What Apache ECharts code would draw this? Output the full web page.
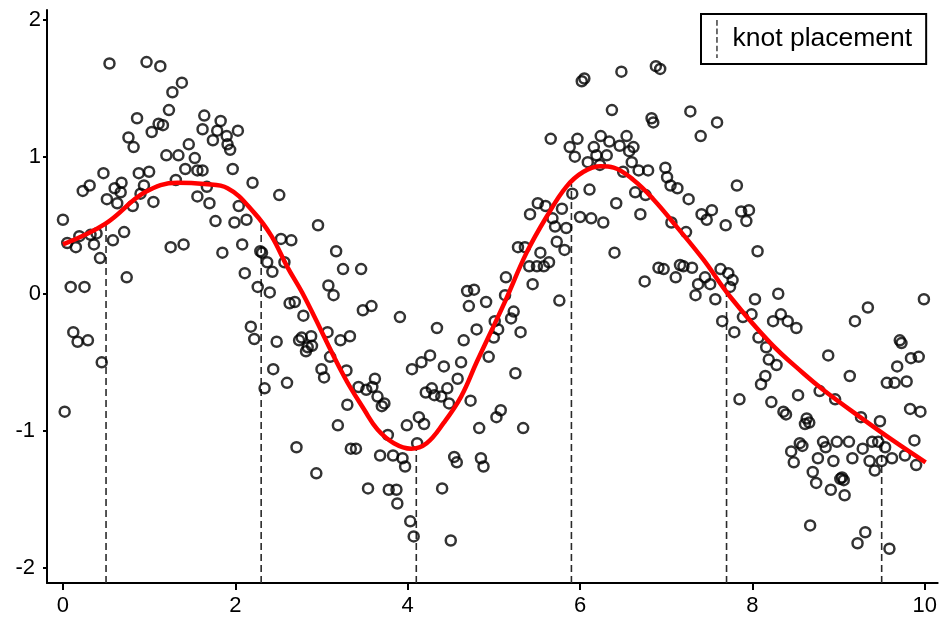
<!DOCTYPE html>
<html>
<head>
<meta charset="utf-8">
<script src="https://cdn.jsdelivr.net/npm/echarts@6/dist/echarts.min.js"></script>
<style>
  html, body { margin: 0; padding: 0; background: #fff; }
  #main { width: 940px; height: 621px; }
</style>
</head>
<body>
<div id="main"></div>
<script>
// tick positions
var xTicks = [0, 2, 4, 6, 8, 10];
var yTicks = [-2, -1, 0, 1, 2];

// knot positions and the fitted value where each dashed line stops
var knotX = [0.5, 2.3, 4.1, 5.9, 7.7, 9.5];
var knotTop = [0.51, 0.52, -1.13, 0.80, 0.02, -1.01];

// fitted spline (red line)
var fitX = [0.00, 0.49, 0.95, 1.33, 1.64, 1.91, 2.22, 2.42, 2.60, 2.80, 3.26, 3.50, 3.65, 3.84, 4.04, 4.22, 4.42, 4.62, 4.80, 5.12, 5.38, 5.61, 5.84, 6.04, 6.24, 6.39, 6.62, 6.85, 7.12, 7.43, 7.74, 8.21, 8.59, 8.82, 9.25, 9.63, 10.01];
var fitY = [0.36, 0.51, 0.74, 0.81, 0.80, 0.77, 0.59, 0.42, 0.20, -0.02, -0.60, -0.85, -0.99, -1.09, -1.13, -1.09, -0.94, -0.75, -0.50, -0.07, 0.30, 0.56, 0.78, 0.89, 0.93, 0.92, 0.83, 0.69, 0.49, 0.25, -0.02, -0.36, -0.58, -0.70, -0.90, -1.07, -1.23];

// observed points [x, y]
var obs = [
  [0.54, 1.68], [0.97, 1.69], [1.13, 1.66], [1.38, 1.54], [1.27, 1.47], [1.23, 1.34], [1.64, 1.30], [0.86, 1.28],
  [1.11, 1.24], [1.16, 1.23], [1.03, 1.18], [1.62, 1.20], [0.76, 1.14], [0.82, 1.07], [1.46, 1.09], [1.20, 1.01],
  [1.34, 1.01], [1.53, 0.99], [1.42, 0.91], [1.56, 0.90], [0.47, 0.88], [0.88, 0.88], [1.00, 0.89], [1.31, 0.83],
  [0.31, 0.79], [0.23, 0.75], [0.68, 0.81], [0.60, 0.77], [0.67, 0.74], [0.94, 0.79], [0.51, 0.69], [0.63, 0.66],
  [0.81, 0.64], [0.90, 0.73], [1.05, 0.67], [1.56, 0.71], [0.00, 0.54], [0.19, 0.42], [0.32, 0.43], [0.39, 0.44],
  [0.36, 0.36], [0.15, 0.34], [0.05, 0.37], [0.71, 0.45], [0.58, 0.39], [0.43, 0.26], [1.25, 0.34], [1.40, 0.36],
  [0.74, 0.12], [0.09, 0.05], [0.25, 0.05], [0.12, -0.28], [0.17, -0.35], [0.29, -0.34], [0.45, -0.50], [0.02, -0.86],
  [1.83, 1.26], [1.79, 1.19], [2.03, 1.19], [1.90, 1.15], [1.74, 1.12], [1.91, 1.09], [1.94, 1.05], [1.62, 0.90],
  [1.97, 0.91], [2.20, 0.81], [2.51, 0.72], [1.67, 0.78], [1.70, 0.66], [2.04, 0.64], [1.77, 0.53], [1.99, 0.52],
  [2.13, 0.54], [2.96, 0.50], [2.08, 0.36], [1.85, 0.30], [2.53, 0.40], [2.65, 0.39], [3.17, 0.31], [2.29, 0.31],
  [2.31, 0.30], [2.37, 0.23], [2.57, 0.23], [2.11, 0.15], [2.43, 0.16], [3.25, 0.18], [2.26, 0.05], [2.40, 0.01],
  [3.08, 0.06], [3.14, -0.01], [2.63, -0.07], [2.69, -0.06], [2.79, -0.16], [2.18, -0.24], [2.22, -0.33], [2.48, -0.35],
  [2.74, -0.34], [2.77, -0.32], [2.88, -0.31], [2.84, -0.39], [2.82, -0.42], [2.89, -0.38], [3.07, -0.28], [3.22, -0.34],
  [3.33, -0.31], [3.10, -0.46], [3.00, -0.55], [3.03, -0.61], [3.29, -0.56], [2.44, -0.55], [2.60, -0.65], [2.34, -0.69],
  [3.30, -0.81], [3.19, -0.96], [2.71, -1.12], [3.34, -1.13], [3.40, -1.13], [2.94, -1.31],
  [3.46, 0.18], [3.48, -0.12], [3.58, -0.09], [3.91, -0.17], [4.34, -0.25], [4.69, 0.02], [4.77, 0.03], [4.71, -0.09],
  [4.91, -0.06], [5.14, 0.12], [5.13, -0.01], [4.80, -0.26], [5.01, -0.20], [5.05, -0.26], [4.65, -0.34], [5.00, -0.32],
  [4.94, -0.46], [4.26, -0.45], [4.16, -0.50], [4.05, -0.55], [4.42, -0.53], [4.62, -0.50], [4.58, -0.62], [3.62, -0.62],
  [3.43, -0.68], [3.52, -0.70], [3.59, -0.68], [3.65, -0.75], [3.73, -0.80], [3.70, -0.82], [4.21, -0.72], [4.28, -0.69],
  [4.31, -0.74], [4.39, -0.75], [4.46, -0.69], [4.48, -0.80], [4.73, -0.78], [5.08, -0.85], [5.03, -0.90], [4.83, -0.98],
  [3.99, -0.96], [4.13, -0.90], [4.19, -0.95], [3.77, -1.03], [4.11, -1.09], [3.68, -1.18], [3.83, -1.18], [3.94, -1.20],
  [3.97, -1.26], [4.54, -1.19], [4.57, -1.23], [4.85, -1.20], [4.88, -1.26], [3.54, -1.42], [3.78, -1.43], [3.87, -1.43],
  [3.88, -1.53], [4.40, -1.42], [4.03, -1.66], [4.07, -1.77], [4.50, -1.80],
  [6.02, 1.55], [6.05, 1.57], [6.48, 1.62], [6.88, 1.66], [6.93, 1.64], [6.37, 1.34], [6.83, 1.28], [6.85, 1.25],
  [5.66, 1.13], [5.97, 1.13], [5.88, 1.07], [5.94, 1.00], [6.24, 1.15], [6.34, 1.11], [6.46, 1.08], [6.54, 1.15],
  [6.62, 1.07], [6.57, 1.04], [6.16, 1.07], [6.19, 1.01], [6.31, 1.01], [6.09, 0.96], [6.23, 0.94], [6.60, 0.96],
  [6.68, 0.90], [6.79, 0.90], [6.50, 0.89], [6.11, 0.76], [5.91, 0.73], [6.64, 0.74], [6.76, 0.72], [6.42, 0.66],
  [5.51, 0.66], [5.60, 0.64], [5.79, 0.62], [5.42, 0.58], [6.00, 0.56], [6.13, 0.55], [6.27, 0.52], [6.70, 0.58],
  [5.68, 0.55], [5.71, 0.49], [5.84, 0.48], [5.73, 0.38], [5.82, 0.32], [5.28, 0.34], [5.36, 0.34], [5.54, 0.30],
  [6.40, 0.30], [5.41, 0.20], [5.50, 0.20], [5.58, 0.20], [5.64, 0.23], [5.45, 0.07], [6.75, 0.09], [5.76, -0.05],
  [5.23, -0.13], [5.20, -0.18], [5.31, -0.28], [5.25, -0.58], [5.34, -0.98],
  [7.28, 1.33], [7.59, 1.25], [7.40, 1.15], [6.99, 0.92], [7.01, 0.85], [7.05, 0.79], [7.13, 0.77], [7.26, 0.69],
  [7.82, 0.79], [7.41, 0.58], [7.47, 0.54], [7.53, 0.61], [7.69, 0.50], [7.87, 0.60], [7.96, 0.61], [7.93, 0.53],
  [7.06, 0.52], [7.23, 0.45], [8.06, 0.31], [6.91, 0.19], [6.97, 0.18], [7.16, 0.21], [7.20, 0.20], [7.30, 0.19],
  [7.11, 0.12], [7.63, 0.18], [7.72, 0.15], [7.77, 0.10], [7.45, 0.12], [7.51, 0.07], [7.37, 0.07], [7.74, 0.05],
  [7.34, -0.01], [7.57, -0.04], [8.03, -0.04], [8.30, 0.00],
  [7.65, -0.20], [7.79, -0.28], [7.89, -0.17], [7.99, -0.15], [8.24, -0.20], [8.33, -0.15], [8.41, -0.20], [8.51, -0.25],
  [8.07, -0.32], [8.16, -0.39], [8.19, -0.48], [8.28, -0.52], [8.15, -0.60], [8.10, -0.66], [7.85, -0.77], [8.22, -0.79],
  [8.36, -0.86], [8.39, -0.88], [8.53, -0.74], [8.55, -1.09], [8.45, -1.15], [8.48, -1.23],
  [9.99, -0.04], [9.34, -0.10], [9.19, -0.20], [9.71, -0.34], [9.73, -0.36], [9.84, -0.47], [9.93, -0.46], [9.68, -0.53],
  [9.56, -0.65], [9.65, -0.65], [9.79, -0.64], [8.88, -0.45], [9.13, -0.60], [8.78, -0.71], [8.96, -0.77],
  [9.83, -0.84], [9.95, -0.86], [8.63, -0.91], [8.66, -0.94], [8.61, -0.95], [9.26, -0.90], [9.48, -0.93], [9.88, -1.07],
  [8.58, -1.11], [8.82, -1.08], [8.85, -1.12], [8.98, -1.08], [9.12, -1.08], [9.39, -1.08], [9.46, -1.08], [9.54, -1.12],
  [9.28, -1.13], [8.76, -1.20], [8.94, -1.22], [9.16, -1.20], [9.36, -1.22], [9.50, -1.22], [9.62, -1.20], [9.77, -1.18],
  [9.90, -1.25], [9.42, -1.29], [8.70, -1.30], [8.74, -1.38], [9.04, -1.34], [9.02, -1.35], [9.06, -1.36], [8.91, -1.43],
  [9.07, -1.47], [8.67, -1.69], [9.31, -1.74], [9.22, -1.82], [9.59, -1.86]
];

var xMin = -0.185, xMax = 10.15;
var yMin = -2.11, yMax = 2.07;

var myChart = echarts.init(document.getElementById('main'));

var fitData = [];
for (var i = 0; i < fitX.length; i++) {
  fitData.push([fitX[i], fitY[i]]);
}

var series = [];

// dashed knot lines, one small series each
for (var k = 0; k < knotX.length; k++) {
  series.push({
    name: 'knot placement',
    type: 'line',
    data: [[knotX[k], yMin], [knotX[k], knotTop[k]]],
    symbol: 'none',
    silent: true,
    z: 1,
    itemStyle: { color: '#666' },
    lineStyle: { color: '#2a2a2a', width: 1.6, type: [7, 4] }
  });
}

series.push({
  name: 'obs',
  type: 'scatter',
  data: obs,
  symbol: 'circle',
  symbolSize: 10,
  silent: true,
  z: 2,
  itemStyle: { color: 'rgba(0,0,0,0)', borderColor: '#000', borderWidth: 2.5 }
});

series.push({
  name: 'fit',
  type: 'line',
  data: fitData,
  smooth: 0.4,
  symbol: 'none',
  silent: true,
  z: 3,
  lineStyle: { color: '#ff0000', width: 4.5 }
});

var axisFont = { fontFamily: 'Liberation Sans', fontSize: 22, color: '#000' };

var option = {
  animation: false,
  backgroundColor: '#fff',
  grid: { left: 47, right: 0, top: 10, bottom: 38 },
  legend: {
    data: [{
      name: 'knot placement',
      icon: 'path://M0,0h2v6h-2z M0,9h2v6h-2z M0,18h2v6h-2z M0,27h2v6h-2z M0,36h2v4h-2z'
    }],
    left: 701,
    top: 14,
    selectedMode: false,
    itemWidth: 3,
    itemHeight: 38,
    padding: [6, 14, 6, 15],
    borderColor: '#000',
    borderWidth: 2,
    borderRadius: 0,
    textStyle: { fontFamily: 'Liberation Sans', fontSize: 26.5, color: '#000', padding: [0, 0, 0, 9] }
  },
  xAxis: {
    type: 'value',
    min: xMin,
    max: xMax,
    splitLine: { show: false },
    axisLine: { onZero: false, lineStyle: { color: '#000', width: 2 } },
    axisTick: { customValues: xTicks, length: 7, lineStyle: { color: '#000', width: 2 } },
    axisLabel: Object.assign({ customValues: xTicks, margin: 12 }, axisFont)
  },
  yAxis: {
    type: 'value',
    min: yMin,
    max: yMax,
    splitLine: { show: false },
    axisLine: { show: true, onZero: false, lineStyle: { color: '#000', width: 2 } },
    axisTick: { show: true, customValues: yTicks, length: 4, lineStyle: { color: '#000', width: 2 } },
    axisLabel: Object.assign({
      customValues: yTicks,
      margin: 6,
      // negative labels sit further from the axis than the others
      formatter: function (v) {
        return v < 0 ? '{neg|' + v + '}' : '{pos|' + v + '}';
      },
      rich: {
        neg: { fontFamily: 'Liberation Sans', fontSize: 22, color: '#000', padding: [0, 6, 0, 0] },
        pos: { fontFamily: 'Liberation Sans', fontSize: 22, color: '#000' }
      }
    }, axisFont)
  },
  series: series
};

option && myChart.setOption(option);
</script>
</body>
</html>
